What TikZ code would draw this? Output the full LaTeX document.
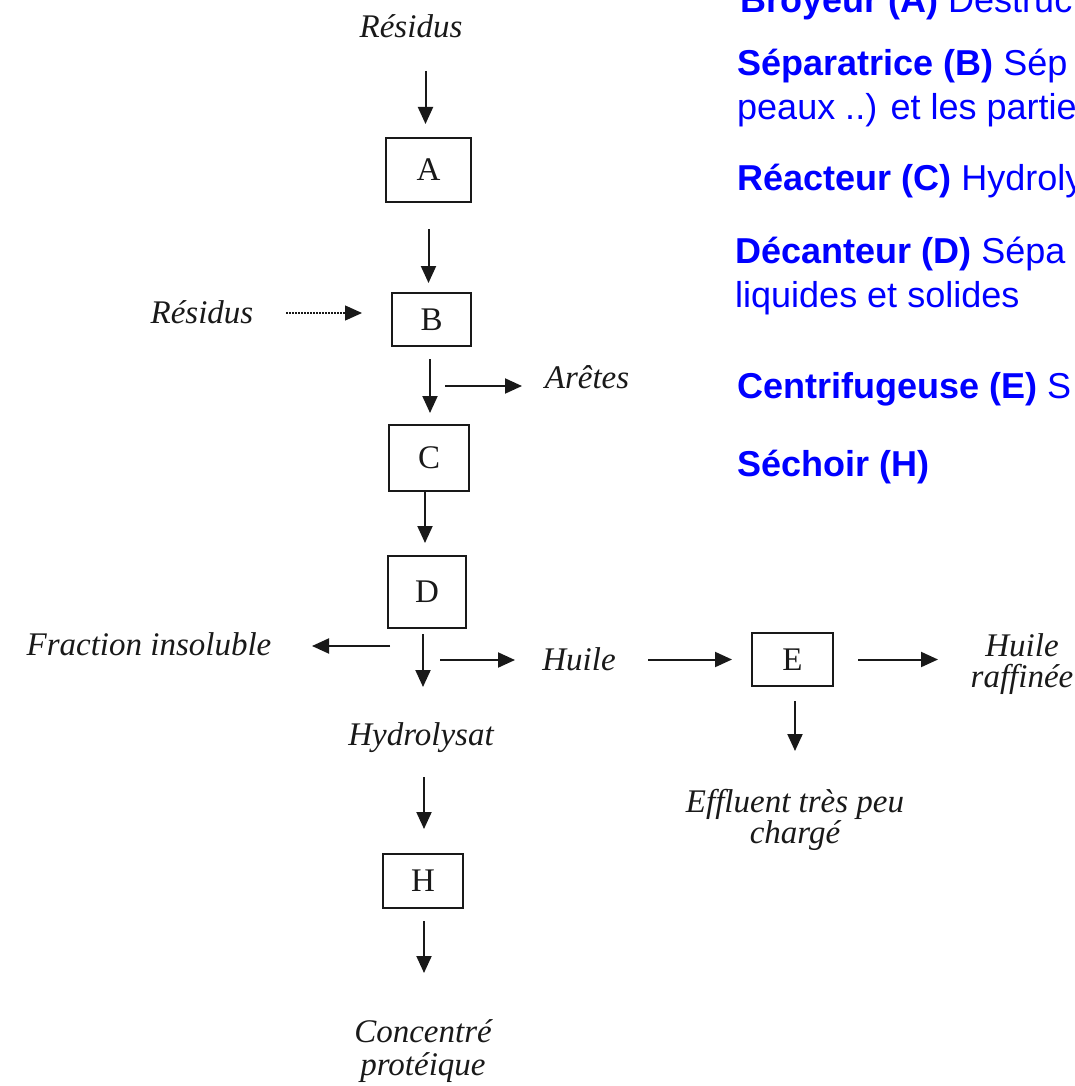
\documentclass[tikz,border=0pt]{standalone}
\usepackage{fontspec}
\setmainfont{Liberation Serif}
\newfontfamily\arialf{Liberation Sans}
\usetikzlibrary{arrows.meta}
\definecolor{pureblue}{RGB}{0,0,255}
\definecolor{ink}{RGB}{25,25,25}
\begin{document}
\begin{tikzpicture}[x=1pt,y=-1pt,
  box/.style={draw=ink, line width=2pt, inner sep=0pt, text=ink, font=\fontsize{33}{33}\selectfont},
  lbl/.style={inner sep=0pt, anchor=base, text=ink, font=\itshape\fontsize{33}{31}\selectfont, align=center},
  arr/.style={draw=ink, line width=2pt, -{Triangle[length=17pt,width=15pt]}},
  arrdot/.style={draw=ink, line width=1.3pt, dash pattern=on 1.5pt off 1.5pt, -{Triangle[length=17pt,width=15pt]}},
  legend/.style={inner sep=0pt, anchor=base west, text=pureblue, font=\arialf\fontsize{36}{40}\selectfont},
]
\fill[white] (0,0) rectangle (1075,1086);
\useasboundingbox (0,0) rectangle (1075,1086);
\clip (0,0) rectangle (1075,1086);

% legend (blue)
\node[legend] (lA) at (740,13) {\textbf{Broyeur (A)} Destruc};
\node[legend] (lB) at (737,76) {\textbf{Séparatrice (B)} Sép};
\node[legend] (lB2) at (737,120) {peaux ..) et les partie};
\node[legend] (lC) at (737,190) {\textbf{Réacteur (C)} Hydroly};
\node[legend] (lD) at (735,263) {\textbf{Décanteur (D)} Sépa};
\node[legend] (lD2) at (735,307) {liquides et solides};
\node[legend] (lE) at (737,398) {\textbf{Centrifugeuse (E)} S};
\node[legend] (lH) at (737,476) {\textbf{Séchoir (H)}};

% boxes
\node[box, minimum width=85, minimum height=64] (A) at (428.5,170) {A};
\node[box, minimum width=79, minimum height=53] (B) at (431.5,319.5) {B};
\node[box, minimum width=80, minimum height=66] (C) at (429,458) {C};
\node[box, minimum width=78, minimum height=72] (D) at (427,592) {D};
\node[box, minimum width=81, minimum height=53] (E) at (792.5,659.5) {E};
\node[box, minimum width=80, minimum height=54] (H) at (423,881) {H};

% labels (multi-line nodes: base = last line)
\node[lbl] (res1) at (411,38) {Résidus};
\node[lbl] (res2) at (202,323) {Résidus};
\node[lbl] (ar) at (587,388) {Arêtes};
\node[lbl] (fi) at (149,655) {Fraction insoluble};
\node[lbl] (hu) at (579,670) {Huile};
\node[lbl] (hr) at (1022,687) {Huile\\raffinée};
\node[lbl] (hy) at (421,745) {Hydrolysat};
\node[lbl] (ef) at (795,843) {Effluent très peu\\chargé};
\node[lbl, font=\itshape\fontsize{33}{33}\selectfont] (cp) at (423,1075) {Concentré\\protéique};

% connectors
\draw[arr] (A.north) ++(-3,-66) -- ++(0,53);
\draw[arr] (A.south) ++(0,26) -- ++(0,54);
\draw[arrdot] (B.west) ++(-105,-6.5) -- ++(76,0);
\draw[arr] (B.south) ++(-1.5,12) -- ++(0,54);
\draw[arr] (B.south) ++(13.5,39) -- ++(77,0);
\draw[arr] (C.south) ++(-4,0) -- ++(0,51);
\draw[arr] (D.south) ++(-4,5) -- ++(0,53);
\draw[arr] (D.south) ++(-37,17) -- ++(-78,0);
\draw[arr] (D.south) ++(13,31) -- ++(75,0);
\draw[arr] (E.west) ++(-103,0) -- ++(84,0);
\draw[arr] (E.east) ++(24,0) -- ++(80,0);
\draw[arr] (E.south) ++(2.5,14) -- ++(0,50);
\draw[arr] (H.north) ++(1,-76) -- ++(0,52);
\draw[arr] (H.south) ++(1,12) -- ++(0,52);
\end{tikzpicture}
\end{document}
